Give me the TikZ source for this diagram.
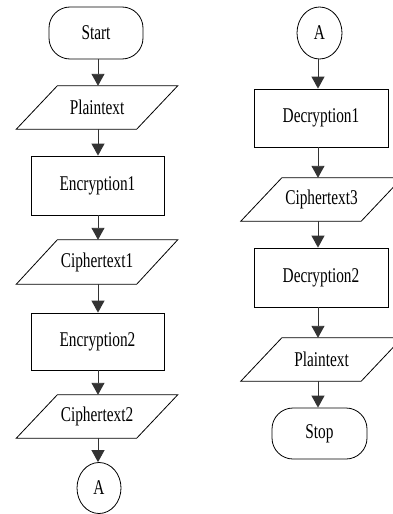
\documentclass[tikz,border=0pt]{standalone}
\usepackage{fontspec}
\setmainfont{Liberation Serif}
\newfontfamily\narrowserif[FakeStretch=0.73]{Liberation Serif}
\usetikzlibrary{arrows.meta,calc,shapes.geometric}
\tikzset{
  base/.style={inner sep=0pt, font=\narrowserif\fontsize{21}{24}\selectfont},
  term/.style={base, draw, line width=0.8pt, rounded corners=21pt, minimum width=94pt, minimum height=52pt},
  proc/.style={base, draw, line width=0.8pt, minimum width=134pt, minimum height=58pt},
  iobox/.style={base, minimum width=120pt, minimum height=43pt},
  conn/.style={base, draw, line width=0.8pt, ellipse, minimum width=44pt, minimum height=51pt},
  arr/.style={line width=0.9pt, draw=black!80, -{Triangle[length=12pt,width=13pt]}},
  paraline/.style={line width=0.8pt}
}
\newcommand{\drawpara}[1]{%
  \draw[paraline] ($(#1.north west)+(20.5,0)$) -- ($(#1.north east)+(20.5,0)$)
    -- ($(#1.south east)+(-20.5,0)$) -- ($(#1.south west)+(-20.5,0)$) -- cycle;}
\begin{document}
\begin{tikzpicture}[x=1pt,y=-1pt]
\useasboundingbox (0,0) rectangle (393,514);
% left column
\node[term] (start) at (96,33) {Start};
\node[iobox] (pt1) at (97,107.5) {Plaintext};
\node[proc, minimum width=133pt, minimum height=59pt] (enc1) at (97.5,185.5) {Encryption1};
\node[iobox, minimum height=44pt] (ct1) at (97,262) {Ciphertext1};
\node[proc, minimum width=133pt, minimum height=57pt] (enc2) at (97.5,341.5) {Encryption2};
\node[iobox] (ct2) at (97,416.5) {Ciphertext2};
\node[conn] (a1) at (99,488) {A};
\drawpara{pt1}
\drawpara{ct1}
\drawpara{ct2}
\draw[arr] (start.south -| 98,0) -- (pt1.north -| 98,0);
\draw[arr] (pt1.south -| 98,0) -- (enc1.north -| 98,0);
\draw[arr] (enc1.south -| 98,0) -- (ct1.north -| 98,0);
\draw[arr] (ct1.south -| 98,0) -- (enc2.north -| 98,0);
\draw[arr] (enc2.south -| 98,0) -- (ct2.north -| 98,0);
\draw[arr] (ct2.south -| 98,0) -- (a1.north -| 98,0);
% right column
\node[conn, minimum width=45pt, minimum height=52pt] (a2) at (319.5,33) {A};
\node[proc] (dec1) at (321,118) {Decryption1};
\node[iobox] (ct3) at (321.5,199.5) {Ciphertext3};
\node[proc, minimum height=59pt] (dec2) at (321,277.5) {Decryption2};
\node[iobox] (pt2) at (321.5,359.5) {Plaintext};
\node[term, minimum width=95pt, minimum height=51pt] (stop) at (319.5,433.5) {Stop};
\drawpara{ct3}
\drawpara{pt2}
\draw[arr] (a2.south -| 318,0) -- (dec1.north -| 318,0);
\draw[arr] (dec1.south -| 318,0) -- (ct3.north -| 318,0);
\draw[arr] (ct3.south -| 318,0) -- (dec2.north -| 318,0);
\draw[arr] (dec2.south -| 318,0) -- (pt2.north -| 318,0);
\draw[arr] (pt2.south -| 318,0) -- (stop.north -| 318,0);
\end{tikzpicture}
\end{document}
